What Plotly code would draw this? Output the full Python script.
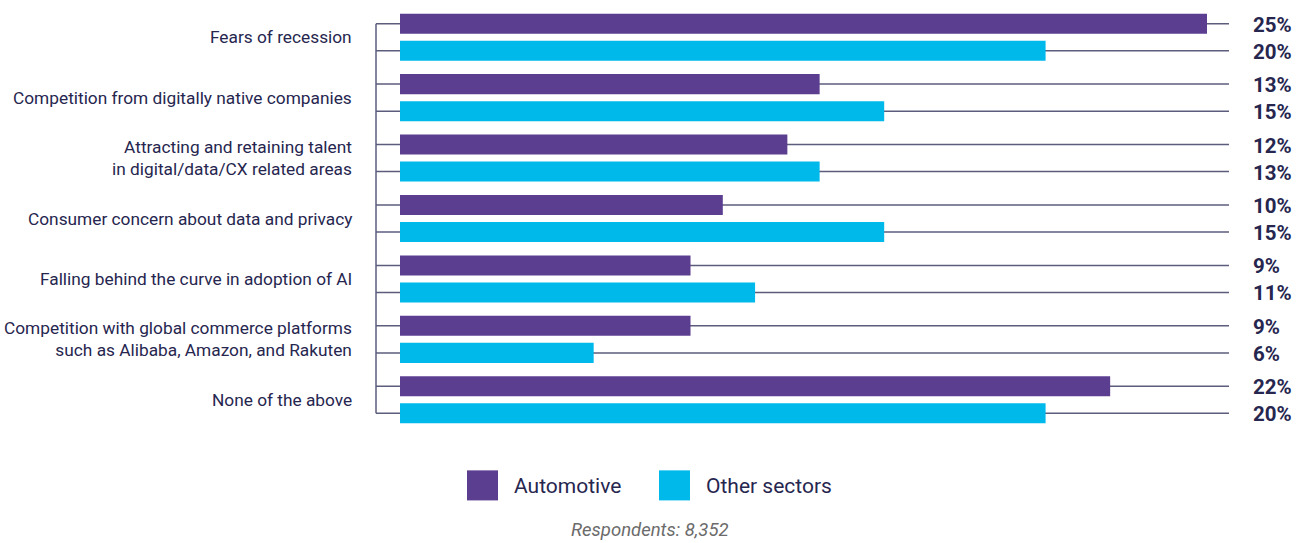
import plotly.graph_objects as go

# Survey data
categories = [
    "Fears of recession",
    "Competition from digitally native companies",
    "Attracting and retaining talent<br>in digital/data/CX related areas",
    "Consumer concern about data and privacy",
    "Falling behind the curve in adoption of AI",
    "Competition with global commerce platforms<br>such as Alibaba, Amazon, and Rakuten",
    "None of the above",
]
automotive = [25, 13, 12, 10, 9, 9, 22]
other_sectors = [20, 15, 13, 15, 11, 6, 20]
series_names = ["Automotive", "Other sectors"]
respondents_note = "Respondents: 8,352"

PURPLE = "#5b3e90"
CYAN = "#00b9eb"
NAVY = "#26264f"
LINE = "#5c5c7c"
FONT = "Roboto, 'Open Sans', sans-serif"

W, H = 1306, 543
# plot area in pixels
PL, PR = 376, 1229
PT, PB = 7.33, 429.7

n = len(categories)
OFF = 0.2238
BAR_W = 0.3315

idx = list(range(n))
y_auto = [i - OFF for i in idx]
y_other = [i + OFF for i in idx]

fig = go.Figure()
fig.add_trace(go.Bar(
    x=automotive, y=y_auto, orientation="h", width=BAR_W,
    marker=dict(color=PURPLE, line=dict(width=0)), name=series_names[0],
    showlegend=False, hoverinfo="x",
))
fig.add_trace(go.Bar(
    x=other_sectors, y=y_other, orientation="h", width=BAR_W,
    marker=dict(color=CYAN, line=dict(width=0)), name=series_names[1],
    showlegend=False, hoverinfo="x",
))


def px_x(p):
    return (p - PL) / (PR - PL)


def px_y(p):
    return (PB - p) / (PB - PT)


shapes = []
annotations = []

# guide lines running from the axis spine to each value label
for ys in (y_auto, y_other):
    for y in ys:
        shapes.append(dict(type="line", xref="paper", yref="y", x0=0, x1=1,
                           y0=y, y1=y, layer="below",
                           line=dict(color=LINE, width=1.5)))
# vertical spine
shapes.append(dict(type="line", xref="paper", yref="y", x0=0, x1=0,
                   y0=y_auto[0], y1=y_other[-1], layer="below",
                   line=dict(color=LINE, width=1.5)))

# value labels
for ys, vals in ((y_auto, automotive), (y_other, other_sectors)):
    for y, v in zip(ys, vals):
        annotations.append(dict(
            x=1, xref="paper", y=y, yref="y", xanchor="left", yanchor="middle",
            xshift=22, yshift=-1, text=f"<b>{v}%</b>", showarrow=False,
            font=dict(family=FONT, size=20.5, color=NAVY),
        ))

# category labels
for i, c in enumerate(categories):
    annotations.append(dict(
        x=0, xref="paper", y=i, yref="y", xanchor="right", yanchor="middle",
        xshift=-22, text=c, showarrow=False, align="right",
        font=dict(family=FONT, size=17.3, color=NAVY),
    ))

# legend
legend_items = [(467, PURPLE, series_names[0]), (659, CYAN, series_names[1])]
for x0, col, name in legend_items:
    shapes.append(dict(type="rect", xref="paper", yref="paper",
                       x0=px_x(x0), x1=px_x(x0 + 31), y0=px_y(500), y1=px_y(470),
                       fillcolor=col, line=dict(width=0)))
    annotations.append(dict(
        x=px_x(x0 + 45), xref="paper", y=px_y(486), yref="paper",
        xanchor="left", yanchor="middle", text=name, showarrow=False,
        font=dict(family=FONT, size=21, color=NAVY),
    ))

annotations.append(dict(
    x=px_x(650), xref="paper", y=px_y(530), yref="paper",
    xanchor="center", yanchor="middle", text=f"<i>{respondents_note}</i>",
    showarrow=False, font=dict(family=FONT, size=18.5, color="#6b6b6b"),
))

fig.update_layout(
    width=W, height=H,
    margin=dict(l=PL, r=W - PR, t=PT, b=H - PB, pad=0),
    paper_bgcolor="white", plot_bgcolor="white",
    barmode="overlay",
    xaxis=dict(range=[-24 / 32.28, (PR - 400) / 32.28], visible=False,
               fixedrange=True),
    yaxis=dict(range=[n - 0.5, -0.5], visible=False, fixedrange=True),
    shapes=shapes, annotations=annotations,
    showlegend=False,
)

fig.write_html("out.html", config={"displayModeBar": False})
